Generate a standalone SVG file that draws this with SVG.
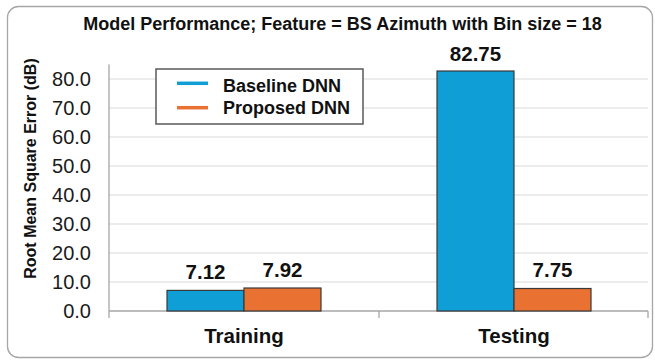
<svg xmlns="http://www.w3.org/2000/svg" width="655" height="361" viewBox="0 0 655 361">
  <style>
    text { font-family: "Liberation Sans", Arial, sans-serif; fill: #111; }
    .title { font-size: 18px; font-weight: bold; text-anchor: middle; }
    .axis-title { font-size: 16px; font-weight: bold; text-anchor: middle; }
    .tick { font-size: 20px; text-anchor: end; fill: #1a1a1a; }
    .cat { font-size: 20.5px; font-weight: bold; text-anchor: middle; }
    .val { font-size: 20.5px; font-weight: bold; text-anchor: middle; }
    .legend-text { font-size: 18px; font-weight: bold; }
    .grid { stroke: #d9d9d9; stroke-width: 1.2; }
    .axis { stroke: #a6a6a6; stroke-width: 1.3; fill: none; }
    .bar-base { fill: #0f9ed5; stroke: #3a3a3a; stroke-width: 1.2; }
    .bar-prop { fill: #e97132; stroke: #3a3a3a; stroke-width: 1.2; }
  </style>

  <!-- chart frame -->
  <rect x="7.5" y="6.5" width="645" height="351" rx="11" fill="#fff" stroke="#a6a6a6" stroke-width="1.3"/>

  <text class="title" x="342.5" y="30">Model Performance; Feature = BS Azimuth with Bin size = 18</text>

  <!-- gridlines every 10 dB (y = 311 - v*2.9) -->
  <g id="gridlines">
    <line class="grid" x1="109" y1="282" x2="648" y2="282"/>
    <line class="grid" x1="109" y1="253" x2="648" y2="253"/>
    <line class="grid" x1="109" y1="224" x2="648" y2="224"/>
    <line class="grid" x1="109" y1="195" x2="648" y2="195"/>
    <line class="grid" x1="109" y1="166" x2="648" y2="166"/>
    <line class="grid" x1="109" y1="137" x2="648" y2="137"/>
    <line class="grid" x1="109" y1="108" x2="648" y2="108"/>
    <line class="grid" x1="109" y1="79" x2="648" y2="79"/>
  </g>

  <!-- axes and category ticks -->
  <g id="axes">
    <line class="axis" x1="109" y1="64.5" x2="109" y2="318"/>
    <line class="axis" x1="109" y1="311" x2="648" y2="311"/>
    <line class="axis" x1="379" y1="311" x2="379" y2="318"/>
    <line class="axis" x1="648" y1="311" x2="648" y2="318"/>
  </g>

  <g id="y-ticks">
    <text class="tick" x="91" y="318">0.0</text>
    <text class="tick" x="91" y="289">10.0</text>
    <text class="tick" x="91" y="260">20.0</text>
    <text class="tick" x="91" y="231">30.0</text>
    <text class="tick" x="91" y="202">40.0</text>
    <text class="tick" x="91" y="173">50.0</text>
    <text class="tick" x="91" y="144">60.0</text>
    <text class="tick" x="91" y="115">70.0</text>
    <text class="tick" x="91" y="86">80.0</text>
  </g>

  <text class="axis-title" transform="translate(36 168.5) rotate(-90)">Root Mean Square Error (dB)</text>

  <!-- Training -->
  <g id="training">
    <rect class="bar-base" x="167" y="290.4" width="77" height="20.6"/>
    <rect class="bar-prop" x="244" y="288" width="77" height="23"/>
    <text class="val" x="205.5" y="279">7.12</text>
    <text class="val" x="282.5" y="277">7.92</text>
    <text class="cat" x="244" y="343">Training</text>
  </g>

  <!-- Testing -->
  <g id="testing">
    <rect class="bar-base" x="437" y="71" width="77" height="240"/>
    <rect class="bar-prop" x="514" y="288.5" width="77" height="22.5"/>
    <text class="val" x="475.5" y="61">82.75</text>
    <text class="val" x="552.5" y="277">7.75</text>
    <text class="cat" x="514" y="343">Testing</text>
  </g>

  <!-- legend -->
  <g id="legend">
    <rect x="156" y="69" width="207" height="55" fill="#fff" stroke="#595959" stroke-width="1.5"/>
    <line x1="177" y1="83.3" x2="208" y2="83.3" stroke="#0f9ed5" stroke-width="3.5"/>
    <line x1="177" y1="107.7" x2="208" y2="107.7" stroke="#e97132" stroke-width="3.5"/>
    <text class="legend-text" x="223" y="91.5">Baseline DNN</text>
    <text class="legend-text" x="223" y="114">Proposed DNN</text>
  </g>
</svg>
